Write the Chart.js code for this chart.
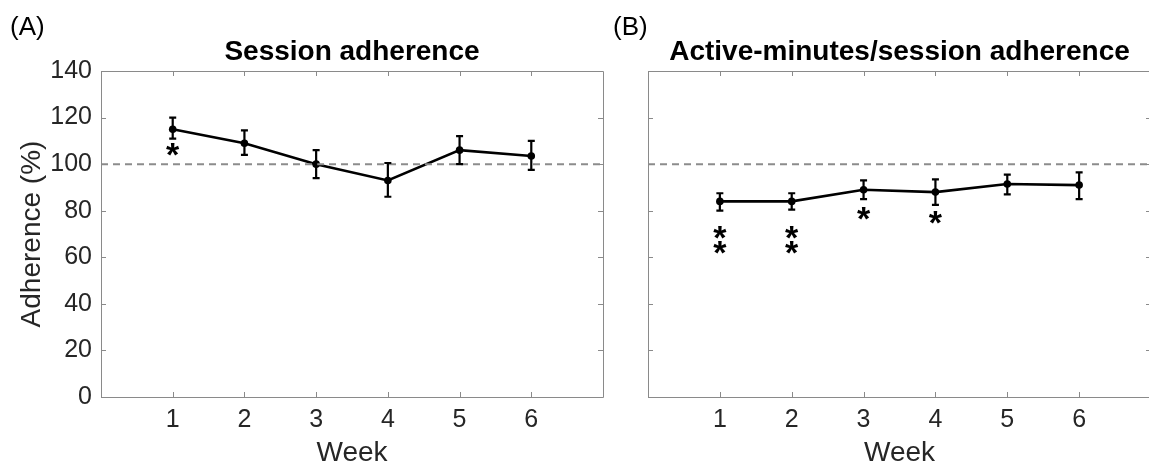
<!DOCTYPE html>
<html>
<head>
<meta charset="utf-8">
<script src="https://cdn.jsdelivr.net/npm/chart.js"></script>
<style>
  html, body { margin:0; padding:0; background:#fff; }
  body { width:1149px; height:470px; overflow:hidden; position:relative; }
  #ca { position:absolute; left:0; top:0; }
  #cb { position:absolute; left:607px; top:0; }
</style>
</head>
<body>
<canvas id="ca" width="607" height="470"></canvas>
<canvas id="cb" width="548" height="470"></canvas>
<script>
// ---------- data ----------
const weeks = [1, 2, 3, 4, 5, 6];
const weekTickLabels = ['1', '2', '3', '4', '5', '6'];
const yTickValues = [0, 20, 40, 60, 80, 100, 120, 140];
const referenceLevel = 100;

const sessionMean = [115, 109, 100, 93, 106, 103.5];
const sessionLow  = [111, 104, 94, 86, 100, 97.5];
const sessionHigh = [120, 114.5, 106, 100.5, 112, 110];
const sessionStarWeeks = [1];
const sessionStarY     = [106.5];

const activeMean = [84, 84, 89, 88, 91.5, 91];
const activeLow  = [80, 80.5, 85, 82.5, 87, 85];
const activeHigh = [87.5, 87.5, 93, 93.5, 95.5, 96.5];
const activeStarWeeks = [1, 1, 2, 2, 3, 4];
const activeStarY     = [70.5, 64, 70.5, 64, 79, 77];

// ---------- styling ----------
const FONT = 'Arial, "Liberation Sans", Helvetica, sans-serif';
const TEXT = '#262626';
const AXIS = '#8a8a8a';

const errorBarPlugin = {
  id: 'errorBars',
  afterDatasetsDraw(chart, args, opts) {
    const {ctx} = chart;
    const xs = chart.scales.x, ys = chart.scales.y;
    ctx.save();
    ctx.strokeStyle = '#000';
    ctx.lineWidth = 2.2;
    opts.x.forEach((w, i) => {
      const px = xs.getPixelForValue(w);
      const pl = ys.getPixelForValue(opts.low[i]);
      const ph = ys.getPixelForValue(opts.high[i]);
      ctx.beginPath();
      ctx.moveTo(px, pl); ctx.lineTo(px, ph);
      ctx.moveTo(px - 3.5, pl); ctx.lineTo(px + 3.5, pl);
      ctx.moveTo(px - 3.5, ph); ctx.lineTo(px + 3.5, ph);
      ctx.stroke();
    });
    // significance stars
    ctx.fillStyle = '#000';
    ctx.font = 'bold 34px ' + FONT;
    ctx.textAlign = 'center';
    ctx.textBaseline = 'alphabetic';
    opts.starX.forEach((w, i) => {
      const px = xs.getPixelForValue(w);
      const py = ys.getPixelForValue(opts.starY[i]);
      const m = ctx.measureText('*');
      const off = (m.actualBoundingBoxAscent - m.actualBoundingBoxDescent) / 2;
      ctx.fillText('*', px, py + off);
    });
    ctx.restore();
  }
};

const boxPlugin = {
  id: 'boxTicks',
  afterDraw(chart, args, opts) {
    const {ctx, chartArea: ca} = chart;
    const xs = chart.scales.x, ys = chart.scales.y;
    ctx.save();
    ctx.strokeStyle = AXIS;
    ctx.lineWidth = 1;
    ctx.beginPath();
    ctx.rect(Math.round(ca.left) + 0.5, Math.round(ca.top) + 0.5,
             Math.round(ca.right - ca.left), Math.round(ca.bottom - ca.top));
    ctx.stroke();
    const L = 5;
    ctx.beginPath();
    xs.ticks.forEach(t => {
      const px = Math.round(xs.getPixelForValue(t.value)) + 0.5;
      ctx.moveTo(px, ca.bottom); ctx.lineTo(px, ca.bottom - L);
      ctx.moveTo(px, ca.top); ctx.lineTo(px, ca.top + L);
    });
    ys.ticks.forEach(t => {
      const py = Math.round(ys.getPixelForValue(t.value)) + 0.5;
      ctx.moveTo(ca.left, py); ctx.lineTo(ca.left + L, py);
      ctx.moveTo(ca.right, py); ctx.lineTo(ca.right - L, py);
    });
    ctx.stroke();
    // panel label + title
    ctx.fillStyle = '#000';
    ctx.textBaseline = 'alphabetic';
    ctx.textAlign = 'left';
    ctx.font = '26px ' + FONT;
    ctx.fillText(opts.panel, opts.panelX, 35);
    ctx.textAlign = 'center';
    ctx.font = 'bold 28px ' + FONT;
    ctx.fillText(opts.title, (ca.left + xs.getPixelForValue(7)) / 2, 60);
    ctx.restore();
  }
};

function makeChart(id, cfg) {
  const showY = cfg.showY;
  return new Chart(document.getElementById(id), {
    type: 'line',
    data: {
      datasets: [
        {
          data: [{x: 0, y: referenceLevel}, {x: 7, y: referenceLevel}],
          borderColor: '#8c8c8c', borderWidth: 2, borderDash: [7, 5],
          pointRadius: 0, fill: false
        },
        {
          data: weeks.map((w, i) => ({x: w, y: cfg.mean[i]})),
          borderColor: '#000', borderWidth: 2.6,
          pointRadius: 3.8, pointBackgroundColor: '#000', pointBorderWidth: 0,
          fill: false, tension: 0
        }
      ]
    },
    options: {
      responsive: false,
      animation: false,
      events: [],
      layout: {padding: {top: 71, right: cfg.padRight, left: 0, bottom: 0}},
      plugins: {
        legend: {display: false},
        tooltip: {enabled: false},
        errorBars: {x: weeks, low: cfg.low, high: cfg.high, starX: cfg.starX, starY: cfg.starY},
        boxTicks: {panel: cfg.panel, panelX: cfg.panelX, title: cfg.title}
      },
      scales: {
        x: {
          type: 'linear', min: 0, max: 7,
          afterBuildTicks: s => { s.ticks = weeks.map(v => ({value: v})); },
          ticks: {
            autoSkip: false, maxRotation: 0, padding: 8,
            callback: (v) => weekTickLabels[weeks.indexOf(v)],
            font: {family: FONT, size: 25}, color: TEXT
          },
          grid: {display: false, drawTicks: false},
          border: {display: false},
          title: {display: true, text: 'Week', font: {family: FONT, size: 28}, color: TEXT, padding: {top: 0, bottom: 0}},
          afterFit: s => { s.height = 73; }
        },
        y: {
          type: 'linear', min: 0, max: 140,
          afterBuildTicks: s => { s.ticks = yTickValues.map(v => ({value: v})); },
          ticks: {
            display: showY, padding: 9,
            font: {family: FONT, size: 25}, color: TEXT
          },
          grid: {display: false, drawTicks: false},
          border: {display: false},
          title: {display: showY, text: 'Adherence (%)', font: {family: FONT, size: 28}, color: TEXT, padding: {top: 15, bottom: 0}},
          afterFit: s => { s.width = cfg.yWidth; }
        }
      }
    },
    plugins: [errorBarPlugin, boxPlugin]
  });
}

makeChart('ca', {
  showY: true, yWidth: 101, padRight: 1,
  mean: sessionMean, low: sessionLow, high: sessionHigh,
  starX: sessionStarWeeks, starY: sessionStarY,
  panel: '(A)', panelX: 10, title: 'Session adherence'
});
makeChart('cb', {
  showY: false, yWidth: 41, padRight: 3,
  mean: activeMean, low: activeLow, high: activeHigh,
  starX: activeStarWeeks, starY: activeStarY,
  panel: '(B)', panelX: 6, title: 'Active-minutes/session adherence'
});
</script>
</body>
</html>
